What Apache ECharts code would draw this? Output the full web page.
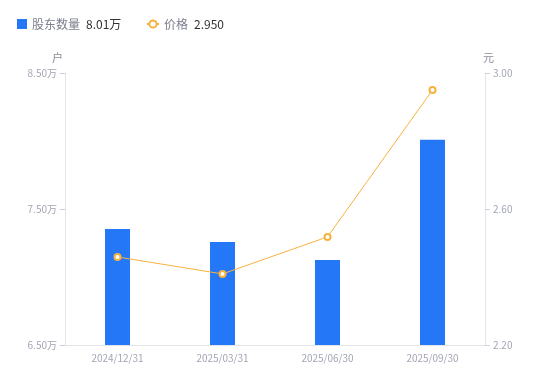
<!DOCTYPE html>
<html>
<head>
<meta charset="utf-8">
<script src="https://cdn.jsdelivr.net/npm/echarts@6/dist/echarts.min.js"></script>
<style>
  html, body {margin: 0; padding: 0; background: #fff;}
  #chart {width: 550px; height: 381px;}
</style>
</head>
<body>
<div id="chart"></div>
<script>
  const dates = ['2024/12/31', '2025/03/31', '2025/06/30', '2025/09/30'];
  const holders = [73530, 72570, 71250, 80100];
  const prices = [2.459, 2.409, 2.518, 2.950];
  const holderTicks = [65000, 75000, 85000];
  const priceTicks = [2.2, 2.6, 3.0];

  const fmtWan = v => (v / 10000).toFixed(2) + '万';
  const legendValues = {
    '股东数量': fmtWan(holders[holders.length - 1]),
    '价格': prices[prices.length - 1].toFixed(3)
  };

  const axisColor = '#e3e4e8';
  const tickColor = '#cfd1d8';
  const labelColor = '#a3a6b4';
  const legendText = {
    rich: {
      n: {color: '#7b7e8c', fontSize: 12},
      v: {color: '#333', fontSize: 12, padding: [0, 0, 0, 6]}
    }
  };
  const legendFmt = name => '{n|' + name + '}{v|' + legendValues[name] + '}';

  const chart = echarts.init(document.getElementById('chart'));
  chart.setOption({
    animation: false,
    textStyle: {fontFamily: 'Noto Sans CJK SC, sans-serif'},
    legend: [{
      left: 12,
      top: 13,
      itemWidth: 10,
      itemHeight: 10,
      textStyle: legendText,
      formatter: legendFmt,
      data: [{name: '股东数量', icon: 'rect'}]
    }, {
      left: 141,
      top: 13,
      itemWidth: 12,
      itemHeight: 9,
      textStyle: legendText,
      formatter: legendFmt,
      data: ['价格']
    }],
    grid: {left: 65, right: 65, top: 73, bottom: 36},
    xAxis: {
      type: 'category',
      data: dates,
      axisLine: {lineStyle: {color: axisColor}},
      axisTick: {show: false},
      axisLabel: {color: labelColor, fontSize: 10, margin: 8}
    },
    yAxis: [{
      type: 'value',
      name: '户',
      nameGap: 10,
      nameTextStyle: {color: '#8a8d99', fontSize: 11, align: 'right', padding: [0, 2, 0, 0]},
      min: holderTicks[0],
      max: holderTicks[holderTicks.length - 1],
      axisLine: {show: true, lineStyle: {color: axisColor}},
      axisTick: {show: true, length: 5, customValues: holderTicks, lineStyle: {color: tickColor}},
      splitLine: {show: false},
      axisLabel: {color: labelColor, fontSize: 10, margin: 8, customValues: holderTicks, formatter: fmtWan}
    }, {
      type: 'value',
      name: '元',
      nameGap: 10,
      nameTextStyle: {color: '#8a8d99', fontSize: 11, align: 'left', padding: [0, 0, 0, -2]},
      min: priceTicks[0],
      max: priceTicks[priceTicks.length - 1],
      axisLine: {show: true, lineStyle: {color: axisColor}},
      axisTick: {show: true, length: 5, customValues: priceTicks, lineStyle: {color: tickColor}},
      splitLine: {show: false},
      axisLabel: {color: labelColor, fontSize: 10, margin: 8, customValues: priceTicks,
        formatter: v => v.toFixed(2)}
    }],
    series: [{
      name: '股东数量',
      type: 'bar',
      yAxisIndex: 0,
      data: holders,
      barWidth: 25,
      itemStyle: {color: '#2477f6'}
    }, {
      name: '价格',
      type: 'line',
      yAxisIndex: 1,
      data: prices,
      symbol: 'emptyCircle',
      symbolSize: 6,
      lineStyle: {width: 1, color: '#f7b23e'},
      itemStyle: {color: '#f7b23e', borderWidth: 2}
    }]
  });
</script>
</body>
</html>
